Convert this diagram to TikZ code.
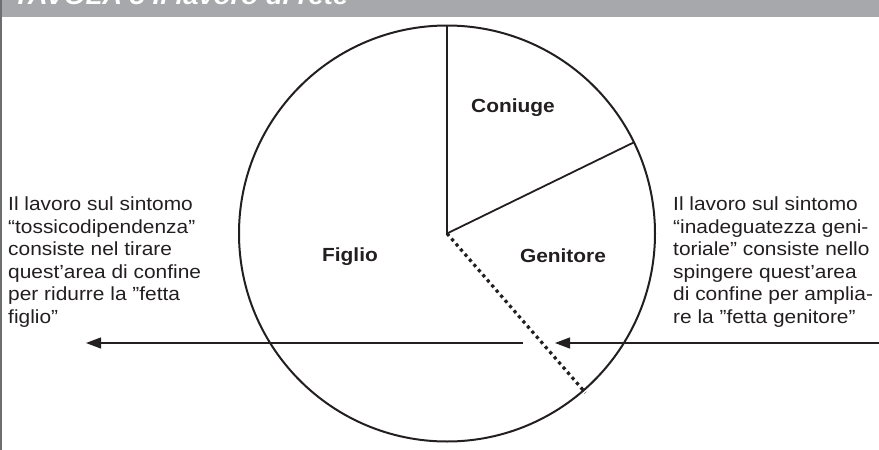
\documentclass[tikz,border=0pt]{standalone}
\usepackage{fontspec}
\setmainfont{Liberation Sans}[FakeStretch=1.1]
\usetikzlibrary{arrows.meta,calc}
\definecolor{ink}{HTML}{231F20}
\definecolor{band}{HTML}{A7A8AB}
\definecolor{edge}{HTML}{6D6E71}
\tikzset{
  body/.style={font=\fontsize{19}{22.5}\selectfont, text=ink, align=left, inner sep=0pt, anchor=base west},
  slice/.style={font=\fontsize{19}{22.5}\selectfont\bfseries, text=ink, inner sep=0pt},
  pushline/.style={draw=ink, line width=1.2pt, -{Triangle[length=15pt,width=11pt]}},
  border/.style={draw=ink, line width=1.8pt},
}
\begin{document}
\begin{tikzpicture}[x=1pt,y=-1pt]
\useasboundingbox (0,0) rectangle (879,450);
\fill[band] (0,0) rectangle (879,16.5);
\begin{scope}
\clip (0,0) rectangle (879,16.5);
\node[font=\fontsize{25}{25}\selectfont\bfseries\itshape, text=white, anchor=base west, inner sep=0pt] (title) at (13,4.5) {TAVOLA 5 Il lavoro di rete};
\end{scope}
\draw[edge, line width=2pt] (1,0) -- (1,450);
% pie
\node[circle, draw=ink, line width=2pt, minimum size=416pt, inner sep=0pt, outer sep=0pt] (pie) at (447,233.5) {};
\draw[border] (pie.center) -- (pie.90);
\draw[border] (pie.center) -- (pie.26);
\coordinate (dotend) at ($(pie.center)+(-49:211pt)$);
\draw[ink, line width=3.2pt, dash pattern=on 3.2pt off 3.6pt] (pie.center) -- (dotend);
% labels
\node[slice] (coniuge) at (513,108) {Coniuge};
\node[slice] (genitore) at (563,256) {Genitore};
\node[slice] (figlio) at (350,257) {Figlio};
% arrows
\coordinate (lstart) at (523,343);
\coordinate (lend) at (86,343);
\coordinate (rstart) at (879,343);
\coordinate (rend) at (555,343);
\draw[pushline] (lstart) -- (lend);
\draw[pushline] (rstart) -- (rend);
% texts (base anchor = baseline of last line)
\node[body] (lefttext) at (8,323.2) {Il lavoro sul sintomo\\“tossicodipendenza”\\consiste nel tirare\\quest’area di confine\\per ridurre la ”fetta\\figlio”};
\node[body] (righttext) at (673,323.2) {Il lavoro sul sintomo\\“inadeguatezza geni-\\toriale” consiste nello\\spingere quest’area\\di confine per amplia-\\re la ”fetta genitore”};
\end{tikzpicture}
\end{document}
